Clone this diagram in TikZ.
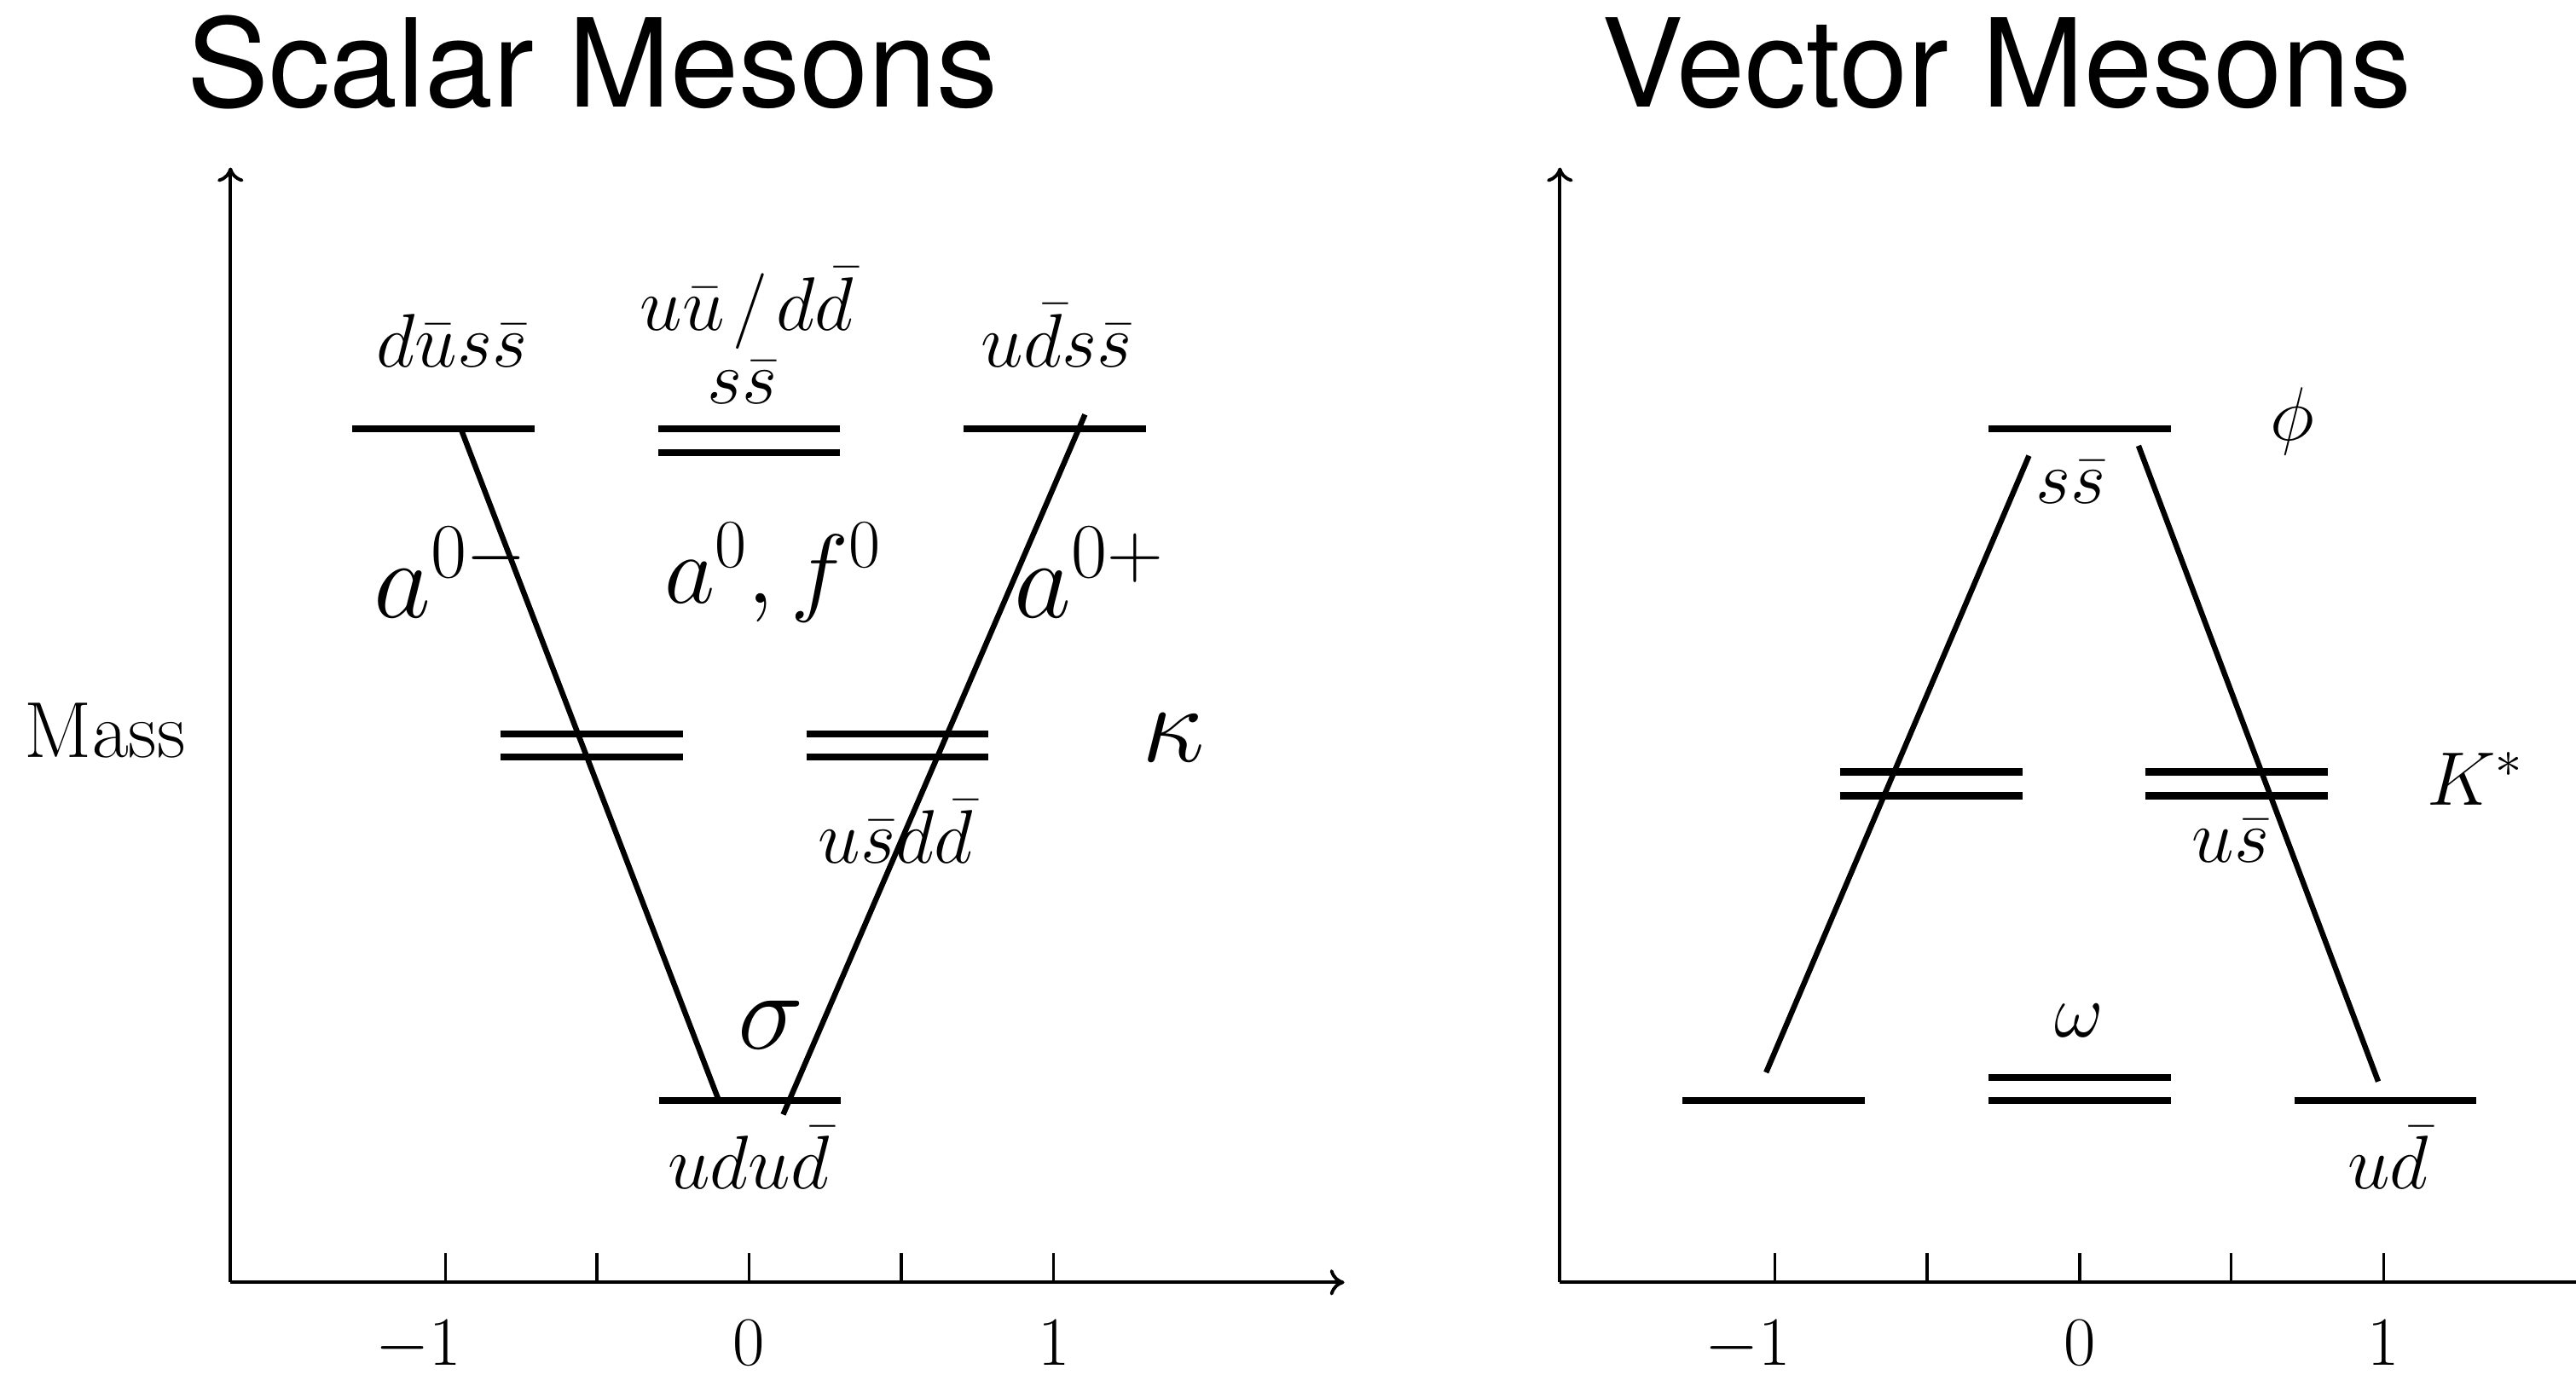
\RequirePackage{fix-cm}
\documentclass[tikz,border=0pt]{standalone}
\usepackage{fontspec}
\newfontfamily\titlefont{TeX Gyre Heros}
\usetikzlibrary{arrows.meta}
\newcommand\lvlbar[2]{\draw[level] ({#1-55.5},#2) -- ({#1+55.5},#2);}
\begin{document}
\begin{tikzpicture}[x=0.02cm,y=-0.02cm,
  level/.style={line width=2.5pt},
  link/.style={line width=1.9pt},
  axis/.style={line width=1.15pt,-{Computer Modern Rightarrow[length=5pt,width=9pt]}},
  axisplain/.style={line width=1.15pt},
  tickmark/.style={line width=1pt},
  lbl/.style={font=\fontsize{26.3}{31}\selectfont,inner sep=0pt,anchor=base},
  big/.style={font=\fontsize{38.5}{46}\selectfont,inner sep=0pt,anchor=base west},
  ticklbl/.style={font=\fontsize{24}{29}\selectfont,inner sep=0pt,anchor=base},
  ttl/.style={font=\titlefont\fontsize{42.5}{50}\selectfont,inner sep=0pt,anchor=base}]
\useasboundingbox (0,0) rectangle (1568,837);

% ---------- titles ----------
\node[ttl] (t1) at (360.6,65.4) {Scalar Mesons};
\node[ttl] (t2) at (1221.5,64.9) {Vector Mesons};

% ---------- left axes ----------
\coordinate (LO) at (140.3,780.8);
\coordinate (LY) at (140.3,102);
\coordinate (LX) at (818.3,780.8);
\draw[axis] (LO) -- (LY);
\draw[axis] (LO) -- (LX);
\foreach \xx in {271.2,363.3,456,548.7,641.4}
  \draw[tickmark] (\xx,763) -- (\xx,780.8);
\node[ticklbl] (lt1) at (271.2,831) {\llap{$-$}$1$};
\node[ticklbl] (lt2) at (456,831) {$0$};
\node[ticklbl] (lt3) at (641.4,831) {$1$};
\node[lbl,font=\fontsize{27.5}{32}\selectfont] (mass) at (64,461) {Mass};

% ---------- right axes ----------
\coordinate (RO) at (949.5,780.8);
\coordinate (RY) at (949.5,102);
\coordinate (RX) at (1600,780.8);
\draw[axis] (RO) -- (RY);
\draw[axisplain] (RO) -- (RX);
\foreach \xx in {1080.2,1173,1266,1358,1451}
  \draw[tickmark] (\xx,763) -- (\xx,780.8);
\node[ticklbl] (rt1) at (1080.2,831) {\llap{$-$}$1$};
\node[ticklbl] (rt2) at (1266,831) {$0$};
\node[ticklbl] (rt3) at (1451,831) {$1$};

% ---------- left levels ----------
\lvlbar{270.1}{261}
\lvlbar{456}{261}
\lvlbar{456}{275.5}
\lvlbar{642}{261}
\lvlbar{360}{447}
\lvlbar{360}{461}
\lvlbar{546.3}{447}
\lvlbar{546.3}{461}
\lvlbar{456.5}{670}

\coordinate (la) at (280.5,261);
\coordinate (lb) at (437.5,670);
\coordinate (lc) at (660.4,252.4);
\coordinate (ld) at (476.7,678.6);
\draw[link] (la) -- (lb);
\draw[link] (lc) -- (ld);

% ---------- left labels ----------
\node[lbl] (q1) at (275,223.5) {$d\bar{u}s\bar{s}$};
\node[lbl] (q2) at (454.5,201) {$u\bar{u}\mkern2mu/\mkern2mu d\bar{d}$};
\node[lbl] (q3) at (452,246) {$s\bar{s}$};
\node[lbl] (q4) at (643.3,223.2) {$u\bar{d}s\bar{s}$};
\node[big] (am) at (227,376) {$a^{0-}$};
\node[big,font=\fontsize{34}{41}\selectfont] (af) at (404,367) {$a^{0}, f^{0}$};
\node[big] (ap) at (617,376) {$a^{0+}$};
\node[big,anchor=base] (kap) at (714.5,464) {$\kappa$};
\node[lbl] (q5) at (545,525.5) {$u\bar{s}d\bar{d}$};
\node[big,anchor=base] (sig) at (469.5,638.7) {$\sigma$};
\node[lbl] (q6) at (455.7,724) {$udu\bar{d}$};

% ---------- right levels ----------
\lvlbar{1265.8}{261}
\lvlbar{1175.5}{470}
\lvlbar{1175.5}{484.5}
\lvlbar{1361.2}{470}
\lvlbar{1361.2}{484.5}
\lvlbar{1265.8}{656}
\lvlbar{1265.8}{670}
\lvlbar{1079.7}{670}
\lvlbar{1452}{670}

\coordinate (ra) at (1235,277.5);
\coordinate (rb) at (1075,653);
\coordinate (rc) at (1301.7,271.4);
\coordinate (rd) at (1447.6,658.5);
\draw[link] (ra) -- (rb);
\draw[link] (rc) -- (rd);

% ---------- right labels ----------
\node[lbl] (phi) at (1395.5,268) {$\phi$};
\node[lbl] (v1) at (1260.3,306.4) {$s\bar{s}$};
\node[lbl,anchor=base west] (ks) at (1477,490) {$K^{*}$};
\node[lbl] (v2) at (1357.7,525) {$u\bar{s}$};
\node[lbl] (om) at (1265.5,631.6) {$\omega$};
\node[lbl] (v3) at (1453.6,724) {$u\bar{d}$};
\end{tikzpicture}
\end{document}
